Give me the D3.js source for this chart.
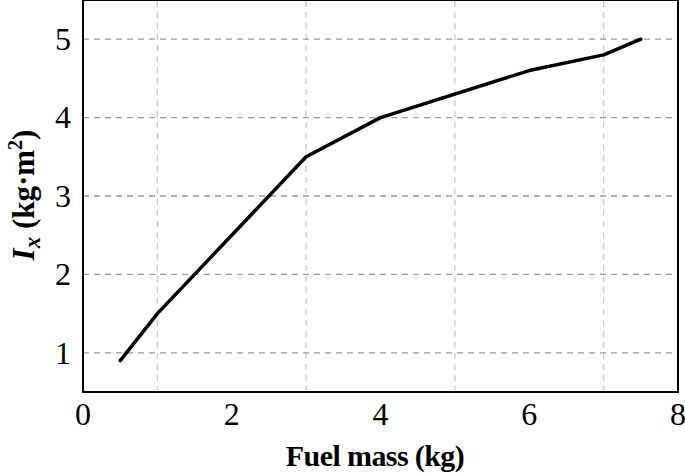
<!DOCTYPE html>
<html>
<head>
<meta charset="utf-8">
<script src="https://cdn.jsdelivr.net/npm/d3@7"></script>
<style>
  body { margin: 0; background: #fff; }
  svg { display: block; font-family: "Liberation Serif", "Times New Roman", serif; }
</style>
</head>
<body>
<div id="chart"></div>
<script>
// ---------- Data ----------
const fuelMass = [0.5, 1, 3, 4, 6, 7, 7.5];
const inertiaX = [0.9, 1.5, 3.5, 4.0, 4.6, 4.8, 5.0];
const xTicks = [0, 2, 4, 6, 8];
const xGrid = [1, 3, 5, 7];
const yTicks = [1, 2, 3, 4, 5];

const width = 685, height = 476;
const margin = { left: 83, right: 7, top: 0, bottom: 84 };

const svg = d3.select('#chart').append('svg')
    .attr('width', width)
    .attr('height', height);

const x = d3.scaleLinear().domain([0, 8]).range([margin.left, width - margin.right]);
const y = d3.scaleLinear().domain([0.5, 5.5]).range([height - margin.bottom, margin.top]);

// ---------- Grid ----------
svg.append('g').selectAll('line')
    .data(xGrid)
    .join('line')
    .attr('x1', d => x(d)).attr('x2', d => x(d))
    .attr('y1', y(0.5)).attr('y2', y(5.5))
    .attr('stroke', '#c8c8c8')
    .attr('stroke-width', 1.3)
    .attr('stroke-dasharray', '6,5');

svg.append('g').selectAll('line')
    .data(yTicks)
    .join('line')
    .attr('x1', x(0)).attr('x2', x(8))
    .attr('y1', d => y(d)).attr('y2', d => y(d))
    .attr('stroke', '#9a9a9a')
    .attr('stroke-width', 1.3)
    .attr('stroke-dasharray', '6,5');

// ---------- Frame ----------
svg.append('rect')
    .attr('x', x(0)).attr('y', y(5.5))
    .attr('width', x(8) - x(0))
    .attr('height', y(0.5) - y(5.5))
    .attr('fill', 'none')
    .attr('stroke', '#000')
    .attr('stroke-width', 2);

// ---------- Tick labels ----------
svg.append('g').selectAll('text')
    .data(xTicks)
    .join('text')
    .attr('x', d => x(d))
    .attr('y', 425)
    .attr('text-anchor', 'middle')
    .attr('font-size', 32)
    .text(d => d);

svg.append('g').selectAll('text')
    .data(yTicks)
    .join('text')
    .attr('x', 71)
    .attr('y', d => y(d))
    .attr('dy', '0.34em')
    .attr('text-anchor', 'end')
    .attr('font-size', 32)
    .text(d => d);

// ---------- Line ----------
const line = d3.line()
    .x((d, i) => x(fuelMass[i]))
    .y(d => y(d));

svg.append('path')
    .datum(inertiaX)
    .attr('d', line)
    .attr('fill', 'none')
    .attr('stroke', '#000')
    .attr('stroke-width', 3.5)
    .attr('stroke-linejoin', 'round')
    .attr('stroke-linecap', 'round');

// ---------- Axis titles ----------
svg.append('text')
    .attr('x', 375)
    .attr('y', 466)
    .attr('text-anchor', 'middle')
    .attr('font-size', 30)
    .attr('font-weight', 'bold')
    .attr('letter-spacing', '-0.6')
    .text('Fuel mass (kg)');

const yTitle = svg.append('text')
    .attr('transform', 'translate(34,195) rotate(-90)')
    .attr('text-anchor', 'middle')
    .attr('font-size', 31)
    .attr('font-weight', 'bold');
yTitle.append('tspan').attr('font-style', 'italic').text('I');
yTitle.append('tspan').attr('font-style', 'italic').attr('font-size', 23).attr('dy', 6).text('x');
yTitle.append('tspan').attr('dy', -6).text(' (kg·m');
yTitle.append('tspan').attr('font-size', 20).attr('dy', -12).text('2');
yTitle.append('tspan').attr('dy', 12).text(')');
</script>
</body>
</html>
